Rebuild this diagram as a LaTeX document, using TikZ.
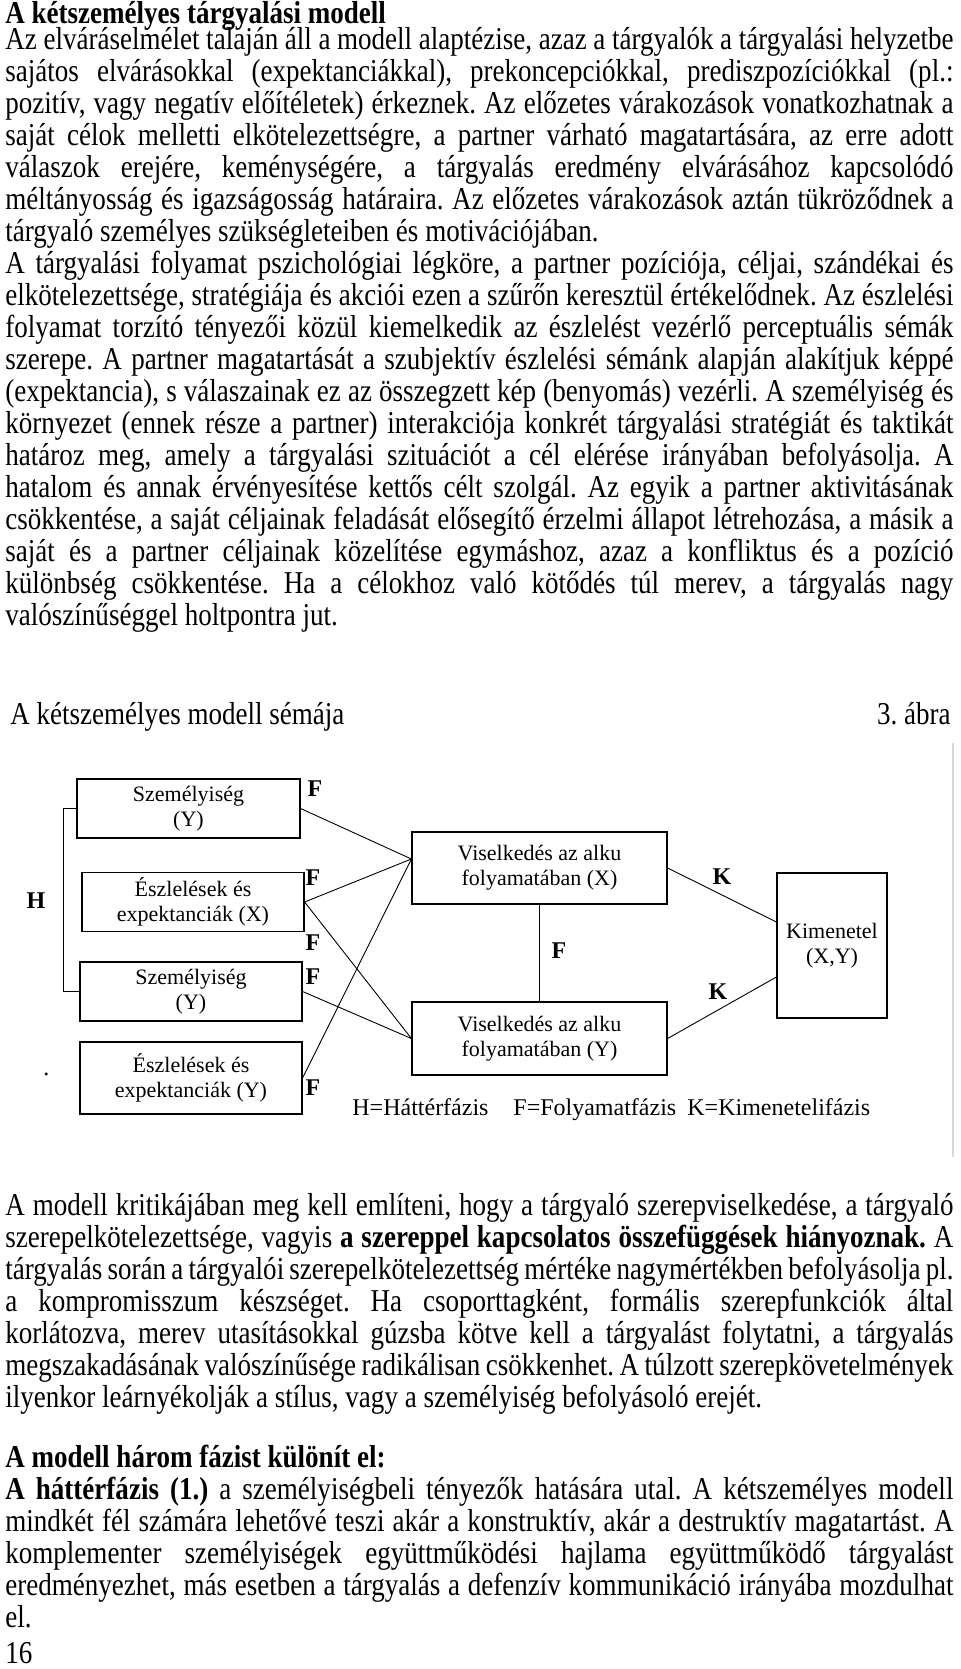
\documentclass[tikz,border=0pt]{standalone}
\usepackage{fontspec}
\setmainfont{Liberation Serif}[FakeStretch=0.85]
\newfontfamily\abrafont{Liberation Serif}
\newcommand{\torzs}{\fontsize{15.9pt}{16pt}\selectfont\lineskiplimit=-20pt\frenchspacing\relax}
\newcommand{\sor}[1]{\hbox to 474pt{#1}}
\newcommand{\sorv}[1]{\hbox{#1}}

\begin{document}
\begin{tikzpicture}[x=0.5pt,y=-0.5pt,
  bekezdes/.style={anchor=base west,inner sep=0pt,font=\torzs},
  elem/.style={draw,line width=0.6pt,inner sep=0pt,align=center,
    font=\abrafont\fontsize{11pt}{12.5pt}\selectfont},
  jel/.style={inner sep=0pt,font=\abrafont\fontsize{12pt}{14pt}\selectfont\bfseries},
  jelmag/.style={anchor=base west,inner sep=0pt,font=\abrafont\fontsize{12pt}{14pt}\selectfont},
  kot/.style={line width=0.45pt}]
  \fill[white] (0,0) rectangle (960,1669);

  % szoveg a kep elott
  \node[bekezdes,font=\torzs\bfseries] (cim) at (5,24) {A kétszemélyes tárgyalási modell};
  \node[bekezdes] (p1) at (5,50) {\vtop{%
    \sor{Az elváráselmélet talaján áll a modell alaptézise, azaz a tárgyalók a tárgyalási helyzetbe}
    \sor{sajátos elvárásokkal (expektanciákkal), prekoncepciókkal, prediszpozíciókkal (pl.:}
    \sor{pozitív, vagy negatív előítéletek) érkeznek. Az előzetes várakozások vonatkozhatnak a}
    \sor{saját célok melletti elkötelezettségre, a partner várható magatartására, az erre adott}
    \sor{válaszok erejére, keménységére, a tárgyalás eredmény elvárásához kapcsolódó}
    \sor{méltányosság és igazságosság határaira. Az előzetes várakozások aztán tükröződnek a}
    \sorv{tárgyaló személyes szükségleteiben és motivációjában.}
    \sor{A tárgyalási folyamat pszichológiai légköre, a partner pozíciója, céljai, szándékai és}
    \sor{elkötelezettsége, stratégiája és akciói ezen a szűrőn keresztül értékelődnek. Az észlelési}
    \sor{folyamat torzító tényezői közül kiemelkedik az észlelést vezérlő perceptuális sémák}
    \sor{szerepe. A partner magatartását a szubjektív észlelési sémánk alapján alakítjuk képpé}
    \sor{(expektancia), s válaszainak ez az összegzett kép (benyomás) vezérli. A személyiség és}
    \sor{környezet (ennek része a partner) interakciója konkrét tárgyalási stratégiát és taktikát}
    \sor{határoz meg, amely a tárgyalási szituációt a cél elérése irányában befolyásolja. A}
    \sor{hatalom és annak érvényesítése kettős célt szolgál. Az egyik a partner aktivitásának}
    \sor{csökkentése, a saját céljainak feladását elősegítő érzelmi állapot létrehozása, a másik a}
    \sor{saját és a partner céljainak közelítése egymáshoz, azaz a konfliktus és a pozíció}
    \sor{különbség csökkentése. Ha a célokhoz való kötődés túl merev, a tárgyalás nagy}
    \sorv{valószínűséggel holtpontra jut.}}};

  \node[bekezdes] (cim2) at (10,724) {A kétszemélyes modell sémája};
  \node[bekezdes,anchor=base east] (abra) at (951,724) {3. ábra};
  \draw[gray!30,line width=0.8pt] (953,743) -- (953,1157);

  % a sema
  \node[elem,minimum width=111.5pt,minimum height=29.5pt] (sz1) at (188.5,808.5) {Személyiség\\(Y)};
  \node[elem,minimum width=111pt,minimum height=29.5pt] (esz1) at (193,902) {Észlelések és\\expektanciák (X)};
  \node[elem,minimum width=111pt,minimum height=29.5pt] (sz2) at (191,991.5) {Személyiség\\(Y)};
  \node[elem,minimum width=111pt,minimum height=36pt] (esz2) at (191,1078) {Észlelések és\\expektanciák (Y)};
  \node[elem,minimum width=127.5pt,minimum height=36pt] (vis1) at (539.5,868) {Viselkedés az alku\\folyamatában (X)};
  \node[elem,minimum width=127.5pt,minimum height=36.5pt] (vis2) at (539.5,1038.5) {Viselkedés az alku\\folyamatában (Y)};
  \node[elem,minimum width=55pt,minimum height=72.5pt] (kim) at (832,945.5) {Kimenetel\\(X,Y)};

  \coordinate (vbe) at ([yshift=4.5pt]vis1.west);
  \coordinate (kbe1) at ([yshift=11.75pt]kim.west);
  \coordinate (kbe2) at ([yshift=-15.75pt]kim.west);
  \coordinate (hx) at (63,0);

  \draw[kot] (sz1.west) -- (sz1.west -| hx) -- (sz2.west -| hx) -- (sz2.west);
  \draw[kot] (sz1.east) -- (vbe);
  \draw[kot] (esz1.east) -- (vbe);
  \draw[kot] (esz2.east) -- (vbe);
  \draw[kot] (esz1.east) -- (vis2.west);
  \draw[kot] (sz2.east) -- (vis2.west);
  \draw[kot] (vis1.south) -- (vis2.north);
  \draw[kot] (vis1.east) -- (kbe1);
  \draw[kot] (vis2.east) -- (kbe2);

  \node[jel] (h) at (36,901) {H};
  \node[jel] (f1) at (315,789) {F};
  \node[jel] (f2) at (313,878) {F};
  \node[jel] (f3) at (313,943) {F};
  \node[jel] (f4) at (313,977) {F};
  \node[jel] (f5) at (313,1088) {F};
  \node[jel] (f6) at (559,951) {F};
  \node[jel] (k1) at (722,877) {K};
  \node[jel] (k2) at (718,992) {K};
  \node[jelmag] (pont) at (43,1075) {.};

  \node[jelmag] (jh) at (352,1115) {H=Háttérfázis};
  \node[jelmag] (jf) at (513,1115) {F=Folyamatfázis};
  \node[jelmag] (jk) at (687,1115) {K=Kimenetelifázis};

  % szoveg a kep utan
  \node[bekezdes] (p2) at (5,1215) {\vtop{%
    \sor{A modell kritikájában meg kell említeni, hogy a tárgyaló szerepviselkedése, a tárgyaló}
    \sor{szerepelkötelezettsége, vagyis \textbf{a szereppel kapcsolatos összefüggések hiányoznak.} A}
    \sor{tárgyalás során a tárgyalói szerepelkötelezettség mértéke nagymértékben befolyásolja pl.}
    \sor{a kompromisszum készséget. Ha csoporttagként, formális szerepfunkciók által}
    \sor{korlátozva, merev utasításokkal gúzsba kötve kell a tárgyalást folytatni, a tárgyalás}
    \sor{megszakadásának valószínűsége radikálisan csökkenhet. A túlzott szerepkövetelmények}
    \sorv{ilyenkor leárnyékolják a stílus, vagy a személyiség befolyásoló erejét.}}};

  \node[bekezdes,font=\torzs\bfseries] (cim3) at (5,1467) {A modell három fázist különít el:};
  \node[bekezdes] (p3) at (5,1499) {\vtop{%
    \sor{\textbf{A háttérfázis (1.)} a személyiségbeli tényezők hatására utal. A kétszemélyes modell}
    \sor{mindkét fél számára lehetővé teszi akár a konstruktív, akár a destruktív magatartást. A}
    \sor{komplementer személyiségek együttműködési hajlama együttműködő tárgyalást}
    \sor{eredményezhet, más esetben a tárgyalás a defenzív kommunikáció irányába mozdulhat}
    \sorv{el.}}};
  \node[bekezdes] (oldal) at (5,1663) {16};
\end{tikzpicture}
\end{document}
